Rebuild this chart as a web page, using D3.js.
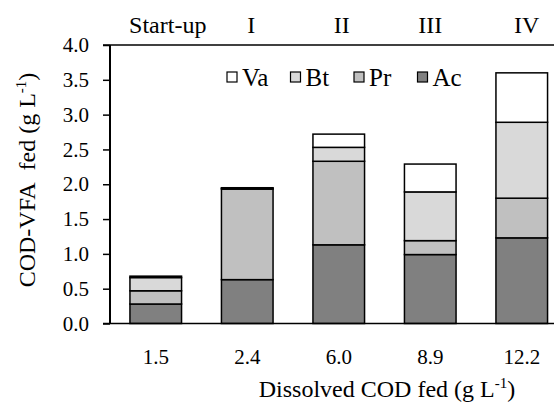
<!DOCTYPE html>
<html>
<head>
<meta charset="utf-8">
<script src="https://cdn.jsdelivr.net/npm/d3@7"></script>
<style>
  body { margin: 0; background: #fff; }
</style>
</head>
<body>
<svg width="554" height="404"></svg>
<script>
// chart values
var categories = ["1.5", "2.4", "6.0", "8.9", "12.2"];
var phases = ["Start-up", "I", "II", "III", "IV"];
var ac = [0.28, 0.63, 1.13, 0.99, 1.23];
var pr = [0.19, 1.30, 1.20, 0.20, 0.57];
var bt = [0.19, 0.01, 0.20, 0.70, 1.09];
var va = [0.02, 0.01, 0.19, 0.40, 0.71];
var seriesNames = ["Ac", "Pr", "Bt", "Va"];
var legendOrder = ["Va", "Bt", "Pr", "Ac"];
var yTicks = [0, 0.5, 1, 1.5, 2, 2.5, 3, 3.5, 4];

var colors = { Ac: "#808080", Pr: "#c0c0c0", Bt: "#d9d9d9", Va: "#ffffff" };
var serif = "'Liberation Serif', 'Times New Roman', Times, serif";

var svg = d3.select("svg");

// rows for the stack
var rows = categories.map(function(c, i) {
  return { cat: c, Ac: ac[i], Pr: pr[i], Bt: bt[i], Va: va[i] };
});
var stacked = d3.stack().keys(seriesNames)(rows);

var x = d3.scaleBand()
  .domain(categories)
  .range([110, 567.5])
  .paddingInner(0.436)
  .paddingOuter(0.218);

var y = d3.scaleLinear()
  .domain([0, 4])
  .range([323.5, 45]);

// bars
svg.append("g")
  .selectAll("g")
  .data(stacked)
  .enter().append("g")
    .attr("fill", function(d) { return colors[d.key]; })
  .selectAll("rect")
  .data(function(d) { return d; })
  .enter().append("rect")
    .attr("x", function(d) { return x(d.data.cat); })
    .attr("y", function(d) { return y(d[1]); })
    .attr("width", x.bandwidth())
    .attr("height", function(d) { return y(d[0]) - y(d[1]); })
    .attr("stroke", "#000")
    .attr("stroke-width", 1.5);

// left axis
var yAxis = d3.axisLeft(y)
  .tickValues(yTicks)
  .tickSize(7)
  .tickPadding(14)
  .tickFormat(d3.format(".1f"));

var gy = svg.append("g")
  .attr("transform", "translate(110,0)")
  .call(yAxis);
gy.select(".domain").remove();
gy.attr("font-family", serif).attr("font-size", 21);
gy.selectAll("line").attr("stroke", "#000").attr("stroke-width", 1.5);
gy.selectAll("text").attr("fill", "#000");

svg.append("line")
  .attr("x1", 110).attr("x2", 110)
  .attr("y1", y(4)).attr("y2", y(0))
  .attr("stroke", "#000").attr("stroke-width", 2);

// bottom and top lines
svg.append("line")
  .attr("x1", 103).attr("x2", 554)
  .attr("y1", y(0)).attr("y2", y(0))
  .attr("stroke", "#000").attr("stroke-width", 1.5);
svg.append("line")
  .attr("x1", 103).attr("x2", 554)
  .attr("y1", y(4)).attr("y2", y(4))
  .attr("stroke", "#000").attr("stroke-width", 1.5);

// bottom category labels
var xAxis = d3.axisBottom(x).tickSize(0).tickPadding(26);
var gx = svg.append("g")
  .attr("transform", "translate(0," + y(0) + ")")
  .call(xAxis);
gx.select(".domain").remove();
gx.attr("font-family", serif).attr("font-size", 21);
gx.selectAll("text").attr("fill", "#000");

// top phase labels
var nudge = [12, 4, 3, 0, 5];
svg.append("g")
  .attr("font-family", serif)
  .attr("font-size", 24)
  .selectAll("text")
  .data(phases)
  .enter().append("text")
    .attr("x", function(d, i) { return x(categories[i]) + x.bandwidth() / 2 + nudge[i]; })
    .attr("y", 33)
    .attr("text-anchor", "middle")
    .text(function(d) { return d; });

// axis titles
var xt = svg.append("text")
  .attr("x", 387)
  .attr("y", 397)
  .attr("text-anchor", "middle")
  .attr("font-family", serif)
  .attr("font-size", 24);
xt.append("tspan").text("Dissolved COD fed (g L");
xt.append("tspan").attr("dy", -9).attr("font-size", 15).text("-1");
xt.append("tspan").attr("dy", 9).text(")");

var yt = svg.append("text")
  .attr("transform", "translate(35,180) rotate(-90)")
  .attr("text-anchor", "middle")
  .attr("font-family", serif)
  .attr("font-size", 24)
  .style("white-space", "pre");
yt.append("tspan").text("COD-VFA\u00a0 fed (g L");
yt.append("tspan").attr("dy", -9).attr("font-size", 15).text("-1");
yt.append("tspan").attr("dy", 9).text(")");

// legend
var legend = svg.append("g")
  .attr("font-family", serif)
  .attr("font-size", 25)
  .selectAll("g")
  .data(legendOrder)
  .enter().append("g")
    .attr("transform", function(d, i) { return "translate(" + (227 + i * 63.5) + ",0)"; });

legend.append("rect")
  .attr("y", 72)
  .attr("width", 10).attr("height", 10)
  .attr("fill", function(d) { return colors[d]; })
  .attr("stroke", "#000")
  .attr("stroke-width", 1.2);

legend.append("text")
  .attr("x", 15)
  .attr("y", 86)
  .text(function(d) { return d; });
</script>
</body>
</html>
